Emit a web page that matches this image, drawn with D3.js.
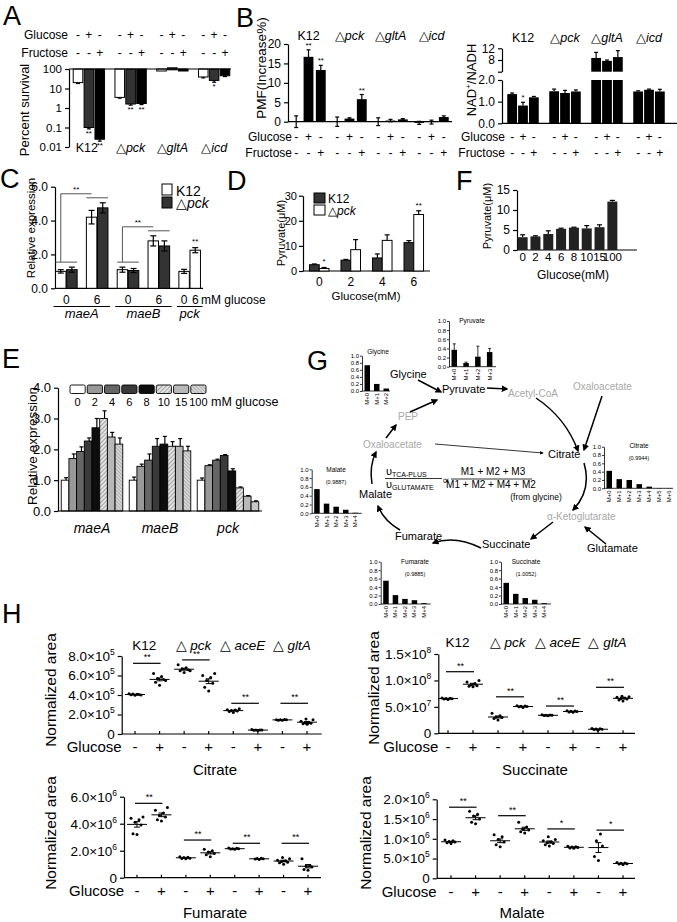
<!DOCTYPE html>
<html>
<head>
<meta charset="utf-8">
<script src="https://cdn.jsdelivr.net/npm/d3@7"></script>
<style>
  body { margin: 0; background: #fff; }
  svg { display: block; }
</style>
</head>
<body>
<svg id="fig" width="677" height="922"></svg>
<script>
// ---------------- data ----------------
const strains = ["K12", "pck", "gltA", "icd"];
const glucoseSigns = ["-", "+", "-"];
const fructoseSigns = ["-", "-", "+"];

// A: percent survival (log scale)
const survival = [[20, 0.1, 0.025], [3.5, 1.6, 1.7], [80, 115, 85], [39, 26, 45]];
const survivalErr = [[2, 0.015, 0.005], [0.3, 0.2, 0.2], [0, 0, 0], [4, 5, 4]];
const survivalStars = [["", "**", "**"], ["", "**", "**"], ["", "", ""], ["", "*", ""]];

// B: PMF and NAD+/NADH
const pmf = [[0, 16.7, 13.3], [0, 0.8, 5.8], [0, 0.3, 0.6], [-0.3, -0.1, 1.2]];
const pmfErr = [[1.5, 1.8, 1.2], [1.2, 0.2, 1.2], [1.0, 0.3, 0.2], [0.4, 0.5, 0.3]];
const pmfStars = [["", "**", "**"], ["", "", "**"], ["", "", ""], ["", "", ""]];
const nad = [[1.35, 0.82, 1.2], [1.48, 1.4, 1.47], [8.7, 7.7, 9.0], [1.47, 1.55, 1.47]];
const nadErr = [[0.05, 0.15, 0.04], [0.1, 0.12, 0.07], [1.9, 0.3, 2.2], [0.03, 0.03, 0.1]];
const nadStars = [["", "*", ""], ["", "", ""], ["", "", ""], ["", "", ""]];

// C: relative expression, 0 / 6 mM glucose
const genesC = ["maeA", "maeB", "pck"];
const glucoseC = ["0", "6"];
const exprK12 = [[1.0, 4.2], [1.1, 2.8], [1.0, 2.25]];
const errK12 = [[0.1, 0.4], [0.15, 0.3], [0.12, 0.15]];
const exprPck = [[1.1, 4.75], [1.05, 2.5], null];
const errPck = [[0.15, 0.3], [0.12, 0.3], null];

// D: pyruvate, K12 vs pck
const glucoseD = ["0", "2", "4", "6"];
const pyrK12 = [2.5, 4.3, 5.2, 11.3];
const pyrK12Err = [0.3, 0.3, 1.6, 0.8];
const pyrPck = [1.0, 8.5, 12.2, 22.5];
const pyrPckErr = [0.4, 4.0, 2.2, 1.5];
const pyrStars = ["*", "", "", "**"];

// E: relative expression over glucose
const genesE = ["maeA", "maeB", "pck"];
const glucoseE = ["0", "2", "4", "6", "8", "10", "15", "100"];
const exprE = [
  [1.0, 1.7, 1.93, 2.27, 2.7, 3.0, 2.4, 2.17],
  [1.0, 1.45, 1.65, 2.1, 2.17, 2.1, 2.1, 1.95],
  [1.0, 1.47, 1.65, 1.8, 1.3, 0.75, 0.48, 0.3]
];
const exprEErr = [
  [0.08, 0.15, 0.15, 0.1, 0.3, 0.25, 0.15, 0.2],
  [0.1, 0.07, 0.2, 0.25, 0.25, 0.15, 0.25, 0.15],
  [0.07, 0.03, 0.03, 0.03, 0.07, 0.03, 0.02, 0.03]
];

// F: pyruvate over glucose
const glucoseF = ["0", "2", "4", "6", "8", "10", "15", "100"];
const pyrF = [3.2, 3.4, 4.0, 5.3, 5.6, 5.4, 5.7, 12.1];
const pyrFErr = [0.6, 0.15, 0.8, 0.15, 0.1, 0.7, 0.6, 0.3];

// G: isotopologue fractions
const isoGlycine = [0.73, 0.2, 0.07];
const isoPyruvate = [0.37, 0.08, 0.22, 0.32];
const isoPyruvateErr = [0.13, 0.02, 0.23, 0.08];
const isoCitrate = [0.42, 0.22, 0.2, 0.1, 0.04, 0.006, 0.004];
const isoMalate = [0.55, 0.22, 0.15, 0.08, 0.012];
const isoFumarate = [0.55, 0.21, 0.12, 0.09, 0.02];
const isoSuccinate = [0.5, 0.24, 0.14, 0.1, 0.02];

// H: normalized areas (values in panel units)
const hGroups = ["K12", "pck", "aceE", "gltA"];
const hSigns = ["-", "+"];
const citrateH = [ // x1e5
  [3.98, 4.02, 4.05, 4.1, 4.08, 4.12, 4.0],
  [5.0, 5.3, 5.6, 5.7, 5.9, 6.2, 5.5],
  [6.3, 6.5, 6.6, 6.7, 6.8, 7.1, 6.5],
  [4.4, 4.8, 5.2, 5.5, 5.8, 6.0, 6.2],
  [2.2, 2.3, 2.35, 2.4, 2.45, 2.5, 2.6],
  [0.35, 0.38, 0.4, 0.42, 0.4, 0.45],
  [1.4, 1.42, 1.45, 1.47, 1.5, 1.45],
  [1.0, 1.05, 1.1, 1.15, 1.2, 1.3, 1.45, 1.55, 1.1]
];
const citrateSig = [7.25, 7.6, 3.15, 3.15];
const citrateStars = ["**", "**", "**", "**"];
const succinateH = [ // x1e7
  [6.4, 6.5, 6.55, 6.6, 6.65, 6.7],
  [8.8, 8.9, 9.0, 9.2, 9.4, 9.7, 10.0],
  [2.5, 2.8, 3.0, 3.1, 3.3, 3.8],
  [4.9, 5.0, 5.05, 5.1, 5.15, 5.2],
  [3.3, 3.35, 3.4, 3.4, 3.45, 3.5],
  [4.0, 4.05, 4.1, 4.15, 4.2, 4.25],
  [0.6, 0.7, 0.75, 0.8, 0.85, 0.9],
  [6.1, 6.3, 6.5, 6.6, 6.7, 6.8, 6.9, 7.0]
];
const succinateSig = [11.65, 6.9, 5.16, 8.7];
const succinateStars = ["**", "**", "**", "**"];
const fumarateH = [ // x1e6
  [3.2, 3.25, 3.9, 4.1, 4.3, 4.4, 4.5],
  [4.2, 4.3, 4.5, 4.6, 4.8, 5.0, 5.2],
  [1.4, 1.42, 1.45, 1.5, 1.52, 1.55],
  [1.55, 1.7, 1.8, 1.9, 2.0, 2.1],
  [2.1, 2.12, 2.15, 2.15, 2.18, 2.2],
  [1.35, 1.38, 1.4, 1.42, 1.45],
  [1.0, 1.1, 1.15, 1.2, 1.25, 1.3, 1.4, 1.5],
  [0.55, 0.6, 0.8, 0.85, 0.9, 1.4]
];
const fumarateSig = [5.51, 2.79, 2.55, 2.55];
const fumarateStars = ["**", "**", "**", "**"];
const malateH = [ // x1e6
  [0.88, 0.9, 0.92, 0.93, 0.95, 0.97],
  [1.38, 1.42, 1.5, 1.58, 1.62, 1.7],
  [0.8, 0.85, 0.92, 0.98, 1.05, 1.1],
  [1.15, 1.18, 1.22, 1.25, 1.3, 1.42],
  [0.82, 0.85, 0.88, 0.9, 0.92, 0.95, 0.98, 1.05],
  [0.76, 0.77, 0.78, 0.79, 0.8, 0.81],
  [0.45, 0.55, 0.82, 0.95, 1.12],
  [0.35, 0.36, 0.37, 0.38, 0.39, 0.4]
];
const malateSig = [1.8, 1.585, 1.25, 1.22];
const malateStars = ["**", "**", "*", "*"];

// ---------------- helpers ----------------
const FONT = "'Liberation Sans', Arial, Helvetica, sans-serif";
const svg = d3.select("#fig").attr("font-family", FONT);

const defs = svg.append("defs");
const h1 = defs.append("pattern").attr("id", "hatch1").attr("patternUnits", "userSpaceOnUse")
  .attr("width", 3).attr("height", 3).attr("patternTransform", "rotate(45)");
h1.append("rect").attr("width", 3).attr("height", 3).attr("fill", "#e2e2e2");
h1.append("line").attr("x1", 0).attr("y1", 0).attr("x2", 0).attr("y2", 3).attr("stroke", "#666").attr("stroke-width", 1);
const h2 = defs.append("pattern").attr("id", "hatch2").attr("patternUnits", "userSpaceOnUse")
  .attr("width", 2.5).attr("height", 2.5).attr("patternTransform", "rotate(-45)");
h2.append("rect").attr("width", 2.5).attr("height", 2.5).attr("fill", "#d6d6d6");
h2.append("line").attr("x1", 0).attr("y1", 0).attr("x2", 0).attr("y2", 2.5).attr("stroke", "#888").attr("stroke-width", 0.9);
defs.append("marker").attr("id", "arrow").attr("viewBox", "0 0 10 10").attr("refX", 8).attr("refY", 5)
  .attr("markerWidth", 4.5).attr("markerHeight", 4.5).attr("orient", "auto")
  .append("path").attr("d", "M0,0 L10,5 L0,10 z").attr("fill", "#000");

function styleAxis(ax, size, sw = 1.2) {
  ax.attr("font-family", FONT).attr("font-size", size);
  ax.selectAll(".domain, .tick line").attr("stroke", "#000").attr("stroke-width", sw);
  ax.selectAll(".tick text").attr("fill", "#000");
}

function hline(g, x1, x2, y, sw = 1.2, color = "#000") {
  g.append("line").attr("x1", x1).attr("x2", x2).attr("y1", y).attr("y2", y)
    .attr("stroke", color).attr("stroke-width", sw);
}

function errBar(g, x, y1, y2, cap, both) {
  g.append("line").attr("x1", x).attr("x2", x).attr("y1", y1).attr("y2", y2)
    .attr("stroke", "#000").attr("stroke-width", 1.2);
  hline(g, x - cap / 2, x + cap / 2, y2);
  if (both) hline(g, x - cap / 2, x + cap / 2, y1);
}

function star(g, x, y, s, size = 9) {
  g.append("text").attr("x", x).attr("y", y).attr("text-anchor", "middle")
    .attr("font-size", size).text(s);
}

function label(g, x, y, s, size, anchor = "start", fill = "#000") {
  return g.append("text").attr("x", x).attr("y", y).attr("text-anchor", anchor)
    .attr("font-size", size).attr("fill", fill).text(s);
}

function vlabel(g, x, y, s, size) {
  return g.append("text").attr("transform", `translate(${x},${y}) rotate(-90)`)
    .attr("text-anchor", "middle").attr("font-size", size).text(s);
}

function strainLabel(g, name, x, y, size, gap) {
  const t = g.append("text").attr("x", x).attr("y", y).attr("text-anchor", "middle").attr("font-size", size);
  if (name === "K12") t.text(name);
  else {
    t.append("tspan").text("△" + (gap ? " " : ""));
    t.append("tspan").attr("font-style", "italic").text(name);
  }
  return t;
}

function signRow(g, name, signs, xs, y, nameX, size) {
  label(g, nameX, y, name, size, "end");
  xs.forEach((x, i) => label(g, x, y, signs[i], size, "middle"));
}

function letter(s, x, y) {
  label(svg, x, y, s, 27);
}

// ---------------- A ----------------
{
  const g = svg.append("g");
  const y = d3.scaleLog().domain([0.01, 100]).range([147, 69]);
  const x0 = d3.scaleBand().domain(strains).range([68, 235]).paddingInner(0.25).paddingOuter(0.125);
  const x1 = d3.scaleBand().domain(d3.range(3)).range([0, x0.bandwidth()]).paddingInner(0.12);
  const bw = x1.bandwidth();
  const ax = g.append("g").attr("transform", "translate(69,0)")
    .call(d3.axisLeft(y).tickValues([100, 10, 1, 0.1, 0.01]).tickFormat(d => String(d)).tickSize(4).tickSizeOuter(0));
  styleAxis(ax, 11.5);
  const fills = ["#fff", "#333", "#000"];
  const xs = [];
  strains.forEach((s, i) => survival[i].forEach((v, j) => {
    const bx = x0(s) + x1(j), cx = bx + bw / 2;
    xs.push(cx);
    const yv = y(v), yb = y(100);
    g.append("rect").attr("x", bx).attr("y", Math.min(yv, yb)).attr("width", bw)
      .attr("height", Math.max(Math.abs(yv - yb), 2)).attr("fill", fills[j]).attr("stroke", "#000");
    let yEnd = yv;
    if (survivalErr[i][j] > 0) {
      yEnd = y(v - survivalErr[i][j]);
      errBar(g, cx, yv, yEnd, 4);
    }
    if (survivalStars[i][j]) star(g, cx, yEnd + 7, survivalStars[i][j], 8);
  }));
  hline(g, 69, 231, y(100));
  signRow(g, "Glucose", strains.flatMap(() => glucoseSigns), xs, 38.5, 68, 12);
  signRow(g, "Fructose", strains.flatMap(() => fructoseSigns), xs, 56.5, 68, 12);
  strains.forEach(s => strainLabel(g, s, x0(s) + x0.bandwidth() / 2 - (s === "K12" ? 2 : 0), 152, 12.5));
  vlabel(g, 29, 110, "Percent survival", 13);
  letter("A", 3, 25);
}

// ---------------- B (PMF) ----------------
{
  const g = svg.append("g");
  const y = d3.scaleLinear().domain([0, 20]).range([121.7, 44]);
  const x0 = d3.scaleBand().domain(strains).range([288, 452]).paddingInner(0.16).paddingOuter(0.08);
  const x1 = d3.scaleBand().domain(d3.range(3)).range([0, x0.bandwidth()]).paddingInner(0.2);
  const bw = x1.bandwidth();
  const ax = g.append("g").attr("transform", "translate(288,0)")
    .call(d3.axisLeft(y).tickValues([0, 5, 10, 15, 20]).tickSize(4).tickSizeOuter(0));
  styleAxis(ax, 12);
  const xs = [];
  strains.forEach((s, i) => pmf[i].forEach((v, j) => {
    const bx = x0(s) + x1(j), cx = bx + bw / 2;
    xs.push(cx);
    g.append("rect").attr("x", bx).attr("y", Math.min(y(v), y(0))).attr("width", bw)
      .attr("height", Math.abs(y(v) - y(0))).attr("fill", "#000");
    const e = pmfErr[i][j];
    errBar(g, cx, y(v - e), y(v + e), 4, true);
    if (pmfStars[i][j]) star(g, cx, y(v + e) - 2, pmfStars[i][j], 8);
  }));
  hline(g, 288, 452, y(0));
  signRow(g, "Glucose", strains.flatMap(() => glucoseSigns), xs, 141, 292, 12);
  signRow(g, "Fructose", strains.flatMap(() => fructoseSigns), xs, 157, 292, 12);
  strains.forEach(s => strainLabel(g, s, x0(s) + x0.bandwidth() / 2, 40, 12.5));
  vlabel(g, 266, 68, "PMF(Increase%)", 13.5);
  letter("B", 236, 27);
}

// ---------------- B (NAD+/NADH, broken axis) ----------------
{
  const g = svg.append("g");
  const yLow = d3.scaleLinear().domain([0, 2]).range([123.3, 80]);
  const yHigh = d3.scaleLinear().domain([4, 12]).range([71.7, 48.3]);
  const yv = v => (v <= 2 ? yLow(v) : yHigh(v));
  const x0 = d3.scaleBand().domain(strains).range([502, 670]).paddingInner(0.25).paddingOuter(0.125);
  const x1 = d3.scaleBand().domain(d3.range(3)).range([0, x0.bandwidth()]).paddingInner(0.1);
  const bw = x1.bandwidth();
  const a1 = g.append("g").attr("transform", "translate(502,0)")
    .call(d3.axisLeft(yLow).tickValues([0, 1, 2]).tickSize(4).tickSizeOuter(0));
  styleAxis(a1, 12);
  const a2 = g.append("g").attr("transform", "translate(502,0)")
    .call(d3.axisLeft(yHigh).tickValues([4, 8, 12]).tickFormat(d => (d === 4 ? "" : d)).tickSize(4).tickSizeOuter(0));
  styleAxis(a2, 12);
  const xs = [];
  strains.forEach((s, i) => nad[i].forEach((v, j) => {
    const bx = x0(s) + x1(j), cx = bx + bw / 2;
    xs.push(cx);
    if (v <= 2) {
      g.append("rect").attr("x", bx).attr("y", yLow(v)).attr("width", bw).attr("height", yLow(0) - yLow(v)).attr("fill", "#000");
    } else {
      g.append("rect").attr("x", bx).attr("y", yLow(2)).attr("width", bw).attr("height", yLow(0) - yLow(2)).attr("fill", "#000");
      g.append("rect").attr("x", bx).attr("y", yHigh(v)).attr("width", bw).attr("height", yHigh(4) - yHigh(v)).attr("fill", "#000");
    }
    const e = nadErr[i][j];
    errBar(g, cx, yv(v), yv(v + e), 4);
    if (nadStars[i][j]) star(g, cx, yv(v + e) - 2, nadStars[i][j], 8);
  }));
  hline(g, 502, 678, yLow(0));
  signRow(g, "Glucose", strains.flatMap(() => glucoseSigns), xs, 141, 505, 12);
  signRow(g, "Fructose", strains.flatMap(() => fructoseSigns), xs, 157, 505, 12);
  strains.forEach(s => strainLabel(g, s, x0(s) + x0.bandwidth() / 2, 42, 12.5));
  const t = g.append("text").attr("transform", "translate(476,80) rotate(-90)")
    .attr("text-anchor", "middle").attr("font-size", 13);
  t.append("tspan").text("NAD");
  t.append("tspan").attr("dy", -5).attr("font-size", 8).text("+");
  t.append("tspan").attr("dy", 5).text("/NADH");
}

// ---------------- C ----------------
{
  const g = svg.append("g");
  const y = d3.scaleLinear().domain([0, 6]).range([288.3, 186.7]);
  const cells = [];
  genesC.forEach((gene, gi) => {
    if (exprPck[gi]) {
      glucoseC.forEach((c, ci) => cells.push({ gene, lab: [c], bars: [
        { v: exprK12[gi][ci], e: errK12[gi][ci], fill: "#fff" },
        { v: exprPck[gi][ci], e: errPck[gi][ci], fill: "#333" }] }));
    } else {
      cells.push({ gene, lab: glucoseC, bars: glucoseC.map((c, ci) => ({ v: exprK12[gi][ci], e: errK12[gi][ci], fill: "#fff" })) });
    }
  });
  const x0 = d3.scaleBand().domain(d3.range(cells.length)).range([54, 202]).paddingInner(0.3).paddingOuter(0.05);
  const x1 = d3.scaleBand().domain([0, 1]).range([0, x0.bandwidth()]).paddingInner(0.06);
  const bw = x1.bandwidth();
  const ax = g.append("g").attr("transform", "translate(55,0)")
    .call(d3.axisLeft(y).tickValues([0, 2, 4, 6]).tickSize(4).tickSizeOuter(0));
  styleAxis(ax, 12);
  hline(g, 55, 203, y(0));
  const tops = [];
  cells.forEach((c, ci) => {
    let top = 0;
    c.bars.forEach((b, bi) => {
      const bx = x0(ci) + x1(bi), cx = bx + bw / 2;
      g.append("rect").attr("x", bx).attr("y", y(b.v)).attr("width", bw).attr("height", y(0) - y(b.v))
        .attr("fill", b.fill).attr("stroke", "#000");
      errBar(g, cx, y(b.v - b.e), y(b.v + b.e), 6, true);
      top = Math.max(top, b.v + b.e);
      if (c.lab.length > 1) label(g, cx, 304, c.lab[bi], 12, "middle");
    });
    tops.push(y(top) - 5);
    if (c.lab.length === 1) label(g, x0(ci) + x0.bandwidth() / 2, 304, c.lab[0], 12, "middle");
  });
  // brackets 0 vs 6 for genes with both strains, star over pck 6 mM
  genesC.forEach(gene => {
    const idx = cells.map((c, i) => (c.gene === gene ? i : -1)).filter(i => i >= 0);
    const left = x0(idx[0]) - 2, right = x0(idx[idx.length - 1]) + x0.bandwidth() + 2;
    hline(g, left, right, 306.5, 1);
    g.append("text").attr("x", (left + right) / 2).attr("y", 318).attr("text-anchor", "middle")
      .attr("font-size", 13).attr("font-style", "italic").text(gene);
    if (idx.length === 2) {
      const [a, b] = idx;
      hline(g, x0(a), x0(a) + x0.bandwidth(), tops[a], 1, "#555");
      hline(g, x0(b), x0(b) + x0.bandwidth(), tops[b], 1, "#555");
      const xa = x0(a) + x1(0) + bw / 2, xb = x0(b) + x1(0) + bw / 2, yt = tops[b] - 4;
      g.append("path").attr("d", `M${xa},${tops[a]} V${yt} H${xb}`).attr("fill", "none")
        .attr("stroke", "#555").attr("stroke-width", 1);
      star(g, (xa + xb) / 2, yt - 2, "**", 8);
    } else {
      const c = cells[idx[0]];
      const b = c.bars[1];
      star(g, x0(idx[0]) + x1(1) + bw / 2, y(b.v + b.e) - 4, "**", 8);
    }
  });
  label(g, 201, 304, "mM glucose", 12);
  g.append("rect").attr("x", 162).attr("y", 184).attr("width", 10).attr("height", 11).attr("fill", "#fff").attr("stroke", "#000");
  g.append("rect").attr("x", 162).attr("y", 197).attr("width", 10).attr("height", 11).attr("fill", "#333").attr("stroke", "#000");
  label(g, 176, 195.5, "K12", 14);
  strainLabel(g, "pck", 176, 208, 14).attr("text-anchor", "start");
  vlabel(g, 35, 228, "Relative expression", 11.5);
  letter("C", 0, 188);
}

// ---------------- D ----------------
{
  const g = svg.append("g");
  const y = d3.scaleLinear().domain([0, 30]).range([271, 195.7]);
  const x0 = d3.scaleBand().domain(glucoseD).range([303, 430]).paddingInner(0.38).paddingOuter(0.205);
  const x1 = d3.scaleBand().domain([0, 1]).range([0, x0.bandwidth()]);
  const bw = x1.bandwidth();
  const ax = g.append("g").attr("transform", "translate(303,0)")
    .call(d3.axisLeft(y).tickValues([0, 10, 20, 30]).tickSize(4).tickPadding(2).tickSizeOuter(0));
  styleAxis(ax, 11);
  hline(g, 303, 430, y(0));
  glucoseD.forEach((c, i) => {
    const series = [
      { v: pyrK12[i], e: pyrK12Err[i], fill: "#333" },
      { v: pyrPck[i], e: pyrPckErr[i], fill: "#fff" }
    ];
    series.forEach((b, bi) => {
      const bx = x0(c) + x1(bi), cx = bx + bw / 2;
      g.append("rect").attr("x", bx).attr("y", y(b.v)).attr("width", bw).attr("height", y(0) - y(b.v))
        .attr("fill", b.fill).attr("stroke", "#000");
      errBar(g, cx, y(b.v), y(b.v + b.e), 5);
      if (bi === 1 && pyrStars[i]) star(g, cx, y(b.v + b.e) - 3, pyrStars[i], 8);
    });
    label(g, x0(c) + x0.bandwidth() / 2, 286, c, 12, "middle");
  });
  label(g, 366, 300, "Glucose(mM)", 11.5, "middle");
  g.append("rect").attr("x", 314).attr("y", 193).attr("width", 11).attr("height", 10).attr("fill", "#333").attr("stroke", "#000");
  g.append("rect").attr("x", 314).attr("y", 205).attr("width", 11).attr("height", 10).attr("fill", "#fff").attr("stroke", "#000");
  label(g, 328, 203, "K12", 12);
  strainLabel(g, "pck", 328, 215, 12).attr("text-anchor", "start");
  vlabel(g, 285, 233, "Pyruvate(μM)", 11);
  letter("D", 227, 190);
}

// ---------------- F ----------------
{
  const g = svg.append("g");
  const y = d3.scaleLinear().domain([0, 15]).range([250, 190]);
  const x = d3.scaleBand().domain(glucoseF).range([517, 618]).paddingInner(0.22).paddingOuter(0.05);
  const ax = g.append("g").attr("transform", "translate(517,0)")
    .call(d3.axisLeft(y).tickValues([0, 5, 10, 15]).tickSize(4).tickSizeOuter(0));
  styleAxis(ax, 12);
  hline(g, 517, 637, y(0));
  glucoseF.forEach((c, i) => {
    const cx = x(c) + x.bandwidth() / 2;
    g.append("rect").attr("x", x(c)).attr("y", y(pyrF[i])).attr("width", x.bandwidth())
      .attr("height", y(0) - y(pyrF[i])).attr("fill", "#222");
    errBar(g, cx, y(pyrF[i]), y(pyrF[i] + pyrFErr[i]), 5);
    label(g, cx, 261, c, 11.5, "middle");
  });
  label(g, 573, 279, "Glucose(mM)", 12, "middle");
  vlabel(g, 491, 216, "Pyruvate(μM)", 11);
  letter("F", 456, 190);
}

// ---------------- E ----------------
{
  const g = svg.append("g");
  const fills = ["#fff", "#999", "#666", "#3a3a3a", "#0d0d0d", "url(#hatch1)", "#b8b8b8", "url(#hatch2)"];
  const y = d3.scaleLinear().domain([0, 4]).range([511, 387.7]);
  const x0 = d3.scaleBand().domain(genesE).range([58, 262]).paddingInner(0.095).paddingOuter(0.0475);
  const x1 = d3.scaleBand().domain(glucoseE).range([0, x0.bandwidth()]);
  const bw = x1.bandwidth();
  const ax = g.append("g").attr("transform", "translate(58,0)")
    .call(d3.axisLeft(y).tickValues([0, 1, 2, 3, 4]).tickSize(4).tickSizeOuter(0));
  styleAxis(ax, 13);
  genesE.forEach((gene, gi) => {
    glucoseE.forEach((c, ci) => {
      const v = exprE[gi][ci], bx = x0(gene) + x1(c);
      g.append("rect").attr("x", bx).attr("y", y(v)).attr("width", bw).attr("height", y(0) - y(v))
        .attr("fill", fills[ci]).attr("stroke", "#000").attr("stroke-width", 0.9);
      errBar(g, bx + bw / 2 + 1, y(v), y(v + exprEErr[gi][ci]), 4);
    });
    g.append("text").attr("x", x0(gene) + x0.bandwidth() / 2).attr("y", 533).attr("text-anchor", "middle")
      .attr("font-size", 14).attr("font-style", "italic").text(gene);
  });
  hline(g, 58, 262, y(0));
  const lb = d3.scaleBand().domain(glucoseE).range([70, 206]).paddingInner(0.12);
  glucoseE.forEach((c, ci) => {
    g.append("rect").attr("x", lb(c)).attr("y", 385).attr("width", lb.bandwidth()).attr("height", 8.5)
      .attr("rx", 1.5).attr("fill", fills[ci]).attr("stroke", "#000").attr("stroke-width", 0.9);
    label(g, lb(c) + lb.bandwidth() / 2, 406, c, 11, "middle");
  });
  label(g, 211, 406, "mM glucose", 12.5);
  vlabel(g, 37, 446, "Relative expression", 13.5);
  letter("E", 2, 368);
}

// ---------------- G ----------------
function miniChart(c) {
  const g = svg.append("g");
  const y = d3.scaleLinear().domain([0, 1]).range([c.y0, c.y0 - c.h]);
  const ax = g.append("g").attr("transform", `translate(${c.x},0)`)
    .call(d3.axisLeft(y).tickValues([0, 0.2, 0.4, 0.6, 0.8, 1.0]).tickFormat(d3.format(".1f"))
      .tickSize(2).tickPadding(1).tickSizeOuter(0));
  styleAxis(ax, 6, 0.8);
  hline(g, c.x, c.x + c.len, c.y0, 0.8);
  c.vals.forEach((v, i) => {
    const bx = c.x + 2.5 + i * c.step, cx = bx + 2.75;
    g.append("rect").attr("x", bx).attr("y", y(v)).attr("width", 5.5).attr("height", c.y0 - y(v)).attr("fill", "#000");
    if (c.err) {
      g.append("line").attr("x1", cx).attr("x2", cx).attr("y1", y(v)).attr("y2", y(v + c.err[i])).attr("stroke", "#000").attr("stroke-width", 0.8);
      hline(g, cx - 1.5, cx + 1.5, y(v + c.err[i]), 0.8);
    }
    g.append("text").attr("transform", `translate(${cx + 2},${c.y0 + 2}) rotate(-90)`)
      .attr("text-anchor", "end").attr("font-size", 6).text("M+" + i);
  });
  label(g, c.tx, c.ty, c.title, 6.5, "middle");
  if (c.sub) label(g, c.tx, c.ty + 11.5, c.sub, 5.5, "middle");
}
{
  const g = svg.append("g");
  miniChart({ x: 362, y0: 391, h: 35.3, step: 9.5, len: 28, vals: isoGlycine, title: "Glycine", tx: 378, ty: 354 });
  miniChart({ x: 449, y0: 366.7, h: 45.7, step: 11.8, len: 47, vals: isoPyruvate, err: isoPyruvateErr, title: "Pyruvate", tx: 472, ty: 323 });
  miniChart({ x: 604, y0: 488.3, h: 41.6, step: 10, len: 69, vals: isoCitrate, title: "Citrate", tx: 639, ty: 448, sub: "(0.9944)" });
  miniChart({ x: 311.7, y0: 513.3, h: 44, step: 9.6, len: 50, vals: isoMalate, title: "Malate", tx: 336, ty: 472, sub: "(0.9887)" });
  miniChart({ x: 380.7, y0: 604, h: 42.3, step: 9.5, len: 50, vals: isoFumarate, title: "Fumarate", tx: 415, ty: 564, sub: "(0.9885)" });
  miniChart({ x: 501, y0: 604, h: 42.3, step: 9.5, len: 50, vals: isoSuccinate, title: "Succinate", tx: 526, ty: 564, sub: "(1.0052)" });

  const dark = "#000", grey = "#a8a8a8";
  label(g, 390, 378, "Glycine", 11, "start", dark);
  label(g, 442, 393, "Pyruvate", 11, "start", dark);
  label(g, 508, 397, "Acetyl-CoA", 10, "start", grey);
  label(g, 573, 390, "Oxaloacetate", 10, "start", grey);
  label(g, 398, 420, "PEP", 10, "start", grey);
  label(g, 363, 448, "Oxaloacetate", 10, "start", grey);
  label(g, 548, 458, "Citrate", 11, "start", dark);
  label(g, 359, 498, "Malate", 11, "start", dark);
  label(g, 547, 520, "α-Ketoglutarate", 10, "start", grey);
  label(g, 395, 540, "Fumarate", 11, "start", dark);
  label(g, 482, 548, "Succinate", 11, "start", dark);
  label(g, 587, 552, "Glutamate", 11, "start", dark);

  const arrows = [
    "M418,380 L441,392",
    "M487,388 L507,389",
    "M536,398 Q566,418 578,451",
    "M602,396 L584,450",
    "M584,463 Q592,490 573,510",
    "M606,544 L585,527",
    "M553,522 L531,539",
    "M481,548 Q455,535 433,543",
    "M400,530 Q384,521 378,506",
    "M372,484 Q369,466 376,452",
    "M386,438 L396,425",
    "M410,412 L437,400"
  ];
  arrows.forEach(d => g.append("path").attr("d", d).attr("fill", "none").attr("stroke", "#000")
    .attr("stroke-width", 1.5).attr("marker-end", "url(#arrow)"));
  g.append("path").attr("d", "M435,444 L543,453").attr("fill", "none").attr("stroke", "#000")
    .attr("stroke-width", 0.8).attr("marker-end", "url(#arrow)");

  // flux ratio formula
  const f1 = label(g, 386, 475, "", 11);
  f1.append("tspan").text("υ");
  f1.append("tspan").attr("font-size", 7).attr("dy", 2).text("TCA-PLUS");
  hline(g, 385, 442, 478.5, 0.8);
  const f2 = label(g, 386, 488, "", 11);
  f2.append("tspan").text("υ");
  f2.append("tspan").attr("font-size", 7).attr("dy", 2).text("GLUTAMATE");
  label(g, 446, 484, "∝", 11, "middle");
  label(g, 493, 475, "M1 + M2 + M3", 10, "middle");
  hline(g, 451, 532, 479, 0.8);
  label(g, 491, 488, "M1 + M2 + M4 + M2", 10, "middle");
  label(g, 536, 500, "(from glycine)", 8.5, "middle");
  letter("G", 307, 370);
}

// ---------------- H ----------------
const jitter = [0, -4, 4, -2, 2, -6, 6, -1, 1];
function scatterPanel(c) {
  const g = svg.append("g");
  const y = d3.scaleLinear().domain([0, c.max]).range([c.y0, c.y1]);
  const keys = hGroups.flatMap(s => hSigns.map(sg => s + sg));
  const x = d3.scalePoint().domain(keys).range(c.xr);
  const ax = g.append("g").attr("transform", `translate(${c.ax[0]},0)`)
    .call(d3.axisLeft(y).tickValues(c.ticks).tickSize(4).tickSizeOuter(0));
  styleAxis(ax, 13.5);
  ax.selectAll(".tick text").each(function (d) {
    const t = d3.select(this).text(null);
    if (d === 0) { t.text("0"); return; }
    const v = d * c.unit, e = Math.floor(Math.log10(v) + 1e-9);
    t.append("tspan").text((v / 10 ** e).toFixed(1) + "×10");
    t.append("tspan").attr("dy", -6).attr("font-size", 8.5).text(e);
  });
  hline(g, c.ax[0], c.ax[1], c.y0);
  keys.forEach(k => g.append("line").attr("x1", x(k)).attr("x2", x(k)).attr("y1", c.y0).attr("y2", c.y0 - 3)
    .attr("stroke", "#000").attr("stroke-width", 1.2));
  c.data.forEach((pts, i) => {
    const cx = x(keys[i]);
    pts.forEach((v, j) => g.append("circle").attr("cx", cx + jitter[j % jitter.length]).attr("cy", y(v))
      .attr("r", 1.5).attr("fill", "#000"));
    const m = d3.mean(pts), sem = d3.deviation(pts) / Math.sqrt(pts.length);
    hline(g, cx - 10, cx + 10, y(m), 1);
    g.append("line").attr("x1", cx).attr("x2", cx).attr("y1", y(m - sem)).attr("y2", y(m + sem))
      .attr("stroke", "#000").attr("stroke-width", 1);
    hline(g, cx - 3, cx + 3, y(m - sem), 1);
    hline(g, cx - 3, cx + 3, y(m + sem), 1);
  });
  hGroups.forEach((s, i) => {
    const xa = x(s + "-"), xb = x(s + "+");
    hline(g, xa - 2, xb + 1, y(c.sig[i]), 1.2);
    star(g, (xa + xb) / 2, y(c.sig[i]) - 3, c.stars[i], 9);
    if (c.groupY) strainLabel(g, s, (xa + xb) / 2 - 3, c.groupY, 13.5, true);
  });
  signRow(g, "Glucose", keys.map(k => k.slice(-1)), keys.map(k => x(k)), c.signY, c.ax[0], 15);
  label(g, c.titleX, c.titleY, c.title, 15, "middle");
  vlabel(g, c.labelX, c.labelY, "Normalized area", 15.5);
}
scatterPanel({ title: "Citrate", data: citrateH, sig: citrateSig, stars: citrateStars, unit: 1e5, max: 8,
  ticks: [0, 2, 4, 6, 8], y0: 734, y1: 656, ax: [121.7, 321.7], xr: [135, 307], groupY: 650,
  signY: 752, titleX: 215, titleY: 775, labelX: 56, labelY: 690 });
scatterPanel({ title: "Succinate", data: succinateH, sig: succinateSig, stars: succinateStars, unit: 1e7, max: 15,
  ticks: [0, 5, 10, 15], y0: 733.3, y1: 654, ax: [438.3, 635], xr: [448, 623], groupY: 647,
  signY: 752, titleX: 535, titleY: 775, labelX: 379, labelY: 688 });
scatterPanel({ title: "Fumarate", data: fumarateH, sig: fumarateSig, stars: fumarateStars, unit: 1e6, max: 6,
  ticks: [0, 2, 4, 6], y0: 877.7, y1: 796.7, ax: [124, 321], xr: [137, 308],
  signY: 896, titleX: 215, titleY: 918, labelX: 56, labelY: 833 });
scatterPanel({ title: "Malate", data: malateH, sig: malateSig, stars: malateStars, unit: 1e6, max: 2,
  ticks: [0, 0.5, 1, 1.5, 2], y0: 878.3, y1: 799.3, ax: [436.7, 635], xr: [451, 623],
  signY: 897, titleX: 522, titleY: 918, labelX: 371, labelY: 833 });
letter("H", 2, 623);
</script>
</body>
</html>
